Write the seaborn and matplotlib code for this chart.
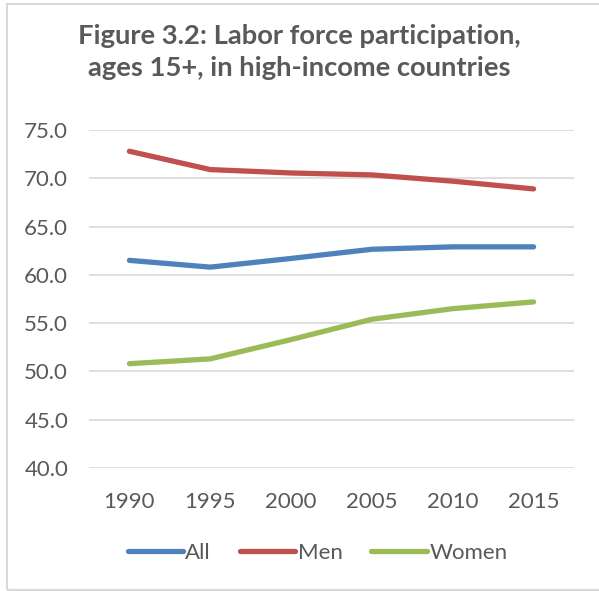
import pandas as pd
import matplotlib.pyplot as plt
import matplotlib.patches as patches
import seaborn as sns

# Dados
years = ["1990", "1995", "2000", "2005", "2010", "2015"]
all_values = [61.5, 60.8, 61.7, 62.65, 62.9, 62.9]
men_values = [72.8, 70.9, 70.55, 70.35, 69.7, 68.9]
women_values = [50.8, 51.3, 53.3, 55.4, 56.5, 57.2]
series_names = ["All", "Men", "Women"]
colors = ["#4F81BD", "#C0504D", "#9BBB59"]

df = pd.DataFrame({
    "Year": years * 3,
    "Value": all_values + men_values + women_values,
    "Series": [s for s in series_names for _ in years],
})

sns.set_style("white")
plt.rcParams["font.family"] = ["Lato", "DejaVu Sans"]
text_color = "#595959"

fig = plt.figure(figsize=(5.99, 5.91), dpi=100)
ax = fig.add_axes([89 / 599, 1 - 468 / 591, (574 - 89) / 599, (468 - 130) / 591])

sns.lineplot(data=df, x="Year", y="Value", hue="Series", palette=colors,
             linewidth=3.8, ax=ax, sort=False, solid_capstyle="round")

ax.set_ylim(40, 75)
ax.set_xlim(-0.5, 5.5)
ax.set_yticks([40, 45, 50, 55, 60, 65, 70, 75])
ax.set_yticklabels([f"{v:.1f}" for v in ax.get_yticks()])
ax.grid(axis="y", color="#D9D9D9", linewidth=1.2)
ax.set_axisbelow(True)
for s in ax.spines.values():
    s.set_visible(False)
ax.tick_params(axis="both", length=0, labelsize=16, labelcolor=text_color)
ax.tick_params(axis="y", pad=15)
ax.tick_params(axis="x", pad=17)
ax.set_xlabel("")
ax.set_ylabel("")

fig.text(0.5, 1 - 52 / 591, "Figure 3.2: Labor force participation,\nages 15+, in high-income countries",
         ha="center", va="center", fontsize=19.7, fontweight="bold", color=text_color,
         linespacing=1.45)

leg = ax.legend(loc="center", bbox_to_anchor=(0.5 - 14 / 485, -(553 - 468) / 338), ncol=3,
                frameon=False, fontsize=16, handlelength=2.5, handletextpad=0.1,
                columnspacing=1.3, labelcolor=text_color)
for line in leg.get_lines():
    line.set_linewidth(3.8)
    line.set_solid_capstyle("round")

fig.patches.append(patches.Rectangle((7 / 599, 1 / 591), 1, 1 - 5 / 591, transform=fig.transFigure,
                                     fill=False, edgecolor="#D9D9D9", linewidth=1.5))

plt.savefig("out.png", dpi=100)
